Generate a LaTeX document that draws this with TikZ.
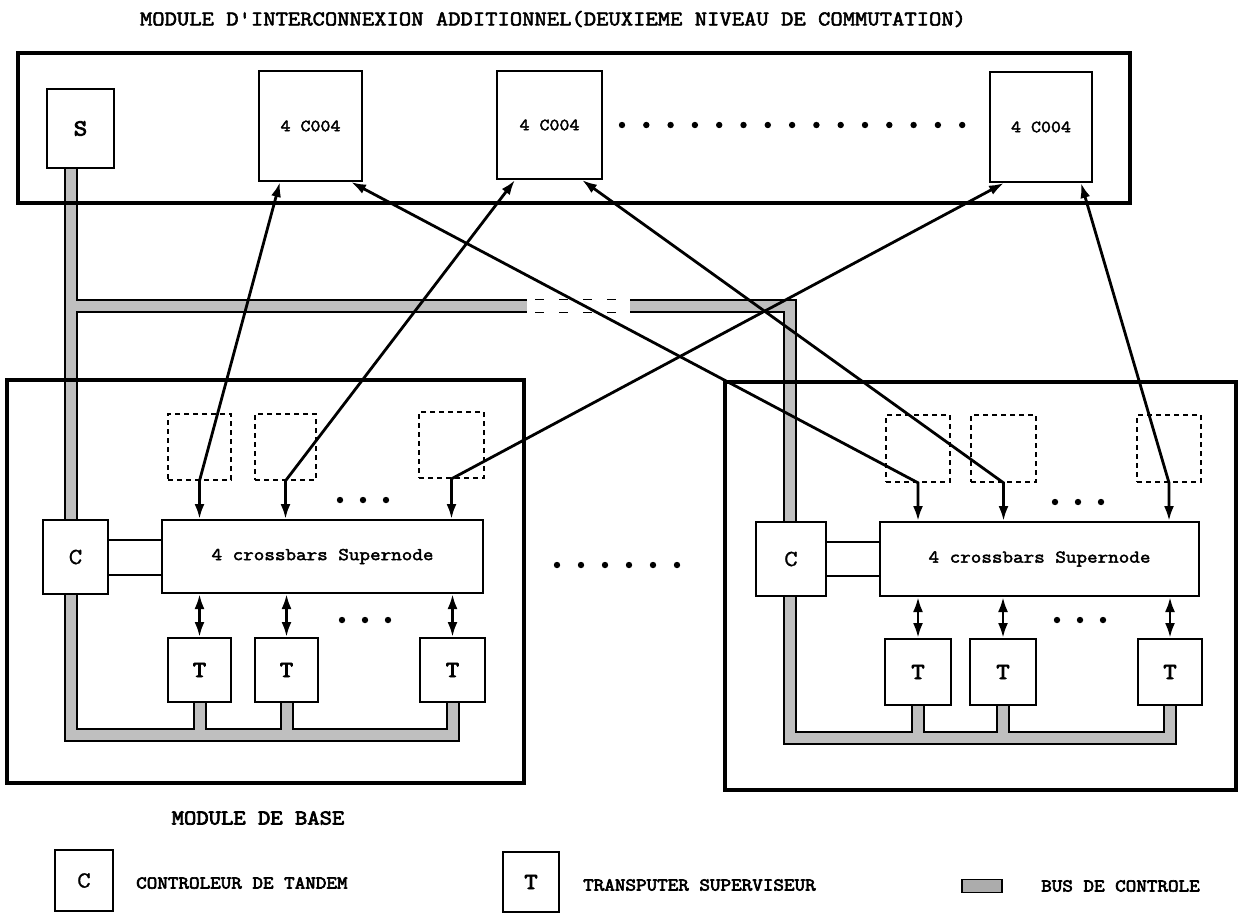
\documentclass[tikz,border=0pt]{standalone}
\usepackage{fontspec}
\newfontfamily\tw{Latin Modern Mono}[FakeStretch=1.14,FakeBold=1]
\newfontfamily\twb{Latin Modern Mono}[FakeStretch=1.14,FakeBold=2.6]
\newfontfamily\twbb{Latin Modern Mono}[FakeStretch=1.14,FakeBold=3.6]
\usetikzlibrary{arrows.meta,backgrounds,calc}
\newcommand\rbox[7]{\node[#2,minimum width={#5-#3},minimum height={#6-#4}] (#1) at ({(#3+#5)/2},{(#4+#6)/2}) {#7};}
\begin{document}
\begin{tikzpicture}[x=1pt,y=-1pt,
  frame/.style={draw,line width=3.4pt,inner sep=0pt},
  box/.style={draw,line width=2pt,fill=white,inner sep=0pt,font=\twbb\fontsize{23}{23}\selectfont},
  cbox/.style={box,font=\twb\fontsize{17}{17}\selectfont},
  snode/.style={box,font=\twb\fontsize{18}{18}\selectfont},
  dbox/.style={draw,line width=1.6pt,dash pattern=on 5pt off 4pt,inner sep=0pt},
  link/.style={line width=2.8pt,{Latex[length=15pt,width=10pt]}-{Latex[length=15pt,width=10pt]}},
  thinl/.style={line width=1.5pt},
  busb/.style={line width=14pt,black},
  busg/.style={line width=10pt,gray!50},
  lbl/.style={inner sep=0pt,font=\twbb\fontsize{18}{18}\selectfont},
  dot/.style={fill=black}]
\useasboundingbox (0,0) rectangle (1239,914);

% title
\node[inner sep=0pt,font=\twb\fontsize{21}{21}\selectfont] (title) at (553,19) {MODULE D'INTERCONNEXION ADDITIONNEL(DEUXIEME NIVEAU DE COMMUTATION)};

% frames
\rbox{top}{frame}{18}{53}{1130}{203}{}
\rbox{baseL}{frame}{7}{380}{524}{783}{}
\rbox{baseR}{frame}{725}{382}{1236}{790}{}

% top module
\rbox{S}{box}{47}{89}{114}{168}{S}
\rbox{C1}{cbox}{259}{71}{362}{181}{4 C004}
\rbox{C2}{cbox}{497}{71}{602}{179}{4 C004}
\rbox{C3}{cbox}{990}{72}{1092}{182}{4 C004}
\foreach \i in {0,...,14} \fill[dot] ({622+\i*24.3},125) circle[radius=3.2];

% left module
\rbox{DL1}{dbox}{168}{414}{231}{480}{}
\rbox{DL2}{dbox}{255}{414}{316}{480}{}
\rbox{DL3}{dbox}{419}{412}{484}{478}{}
\rbox{SL}{snode}{162}{520}{483}{593}{4 crossbars Supernode}
\rbox{CL}{box}{43}{520}{108}{594}{\tw C}
\rbox{TL1}{box}{168}{638}{231}{702}{T}
\rbox{TL2}{box}{255}{638}{318}{702}{T}
\rbox{TL3}{box}{420}{638}{485}{702}{T}
\foreach \x in {340,363,386} {\fill[dot] (\x,500) circle[radius=3.2]; \fill[dot] (\x+2,620) circle[radius=3.2];}

% right module
\rbox{DR1}{dbox}{886}{415}{950}{482}{}
\rbox{DR2}{dbox}{971}{415}{1036}{482}{}
\rbox{DR3}{dbox}{1137}{415}{1201}{482}{}
\rbox{SR}{snode}{880}{522}{1199}{596}{4 crossbars Supernode}
\rbox{CR}{box}{756}{522}{826}{596}{\tw C}
\rbox{TR1}{box}{885}{639}{951}{705}{T}
\rbox{TR2}{box}{970}{639}{1036}{705}{T}
\rbox{TR3}{box}{1138}{639}{1202}{705}{T}
\foreach \x in {1055,1078,1101} {\fill[dot] (\x,502) circle[radius=3.2]; \fill[dot] (\x+2,620) circle[radius=3.2];}

% dots between modules
\foreach \i in {0,...,5} \fill[dot] ({557+\i*24},565) circle[radius=3.2];

% control bus
\coordinate (busL) at (71,0);
\coordinate (busR) at (790,0);
\begin{scope}[on background layer]
\draw[busb] (busL |- S.south) -- (busL |- 0,735) -| (TL3.south);
\draw[busb] (TL1.south) -- (TL1.south |- 0,735) (TL2.south) -- (TL2.south |- 0,735);
\draw[busb] (busL |- 0,306) -- (527,306) (630,306) -- (busR |- 0,306) -- (busR |- 0,738) -| (TR3.south);
\draw[busb] (TR1.south) -- (TR1.south |- 0,738) (TR2.south) -- (TR2.south |- 0,738);
\draw[busg] (busL |- S.south) -- (busL |- 0,735) -| (TL3.south);
\draw[busg] (TL1.south) -- (TL1.south |- 0,735) (TL2.south) -- (TL2.south |- 0,735);
\draw[busg] (busL |- 0,306) -- (527,306) (630,306) -- (busR |- 0,306) -- (busR |- 0,738) -| (TR3.south);
\draw[busg] (TR1.south) -- (TR1.south |- 0,738) (TR2.south) -- (TR2.south |- 0,738);
\draw[line width=1.6pt,dash pattern=on 9pt off 15pt,dash phase=-8pt] (527,299.5) -- (630,299.5) (527,312.5) -- (630,312.5);
\end{scope}

% C to supernode
\draw[thinl] (CL.east |- 0,540) -- (SL.west |- 0,540);
\draw[thinl] (CL.east |- 0,575) -- (SL.west |- 0,575);
\draw[thinl] (CR.east |- 0,542) -- (SR.west |- 0,542);
\draw[thinl] (CR.east |- 0,576) -- (SR.west |- 0,576);

% links to second level
\draw[link] ($(C1.south west)+(22,0)$) -- (DL1.south) -- (DL1.south |- SL.north);
\draw[link] ($(C1.south east)+(-12,0)$) -- (DR1.south) -- (DR1.south |- SR.north);
\draw[link] ($(C2.south west)+(19,0)$) -- (DL2.south) -- (DL2.south |- SL.north);
\draw[link] ($(C2.south east)+(-21,0)$) -- (DR2.south) -- (DR2.south |- SR.north);
\draw[link] ($(C3.south west)+(15,0)$) -- (DL3.south) -- (DL3.south |- SL.north);
\draw[link] ($(C3.south east)+(-12,0)$) -- (DR3.south) -- (DR3.south |- SR.north);

% supernode to transputers
\foreach \t in {TL1,TL2,TL3} \draw[link] (SL.south -| \t.north) -- (\t.north);
\foreach \t in {TR1,TR2,TR3} \draw[link] (SR.south -| \t.north) -- (\t.north);

% labels and legend
\node[inner sep=0pt,font=\twbb\fontsize{21}{21}\selectfont] (modbase) at (258,818) {MODULE DE BASE};
\rbox{legC}{box}{55}{850}{113}{911}{\tw C}
\node[lbl,anchor=west] (legCt) at (136,883) {CONTROLEUR DE TANDEM};
\rbox{legT}{box}{503}{852}{559}{912}{T}
\node[lbl,anchor=west] (legTt) at (583,885) {TRANSPUTER SUPERVISEUR};
\node[draw=black,line width=1.2pt,fill=gray!65,minimum width=40,minimum height=13,inner sep=0pt] (legB) at (982,886) {};
\node[lbl,anchor=west] (legBt) at (1041,886) {BUS DE CONTROLE};
\end{tikzpicture}
\end{document}
